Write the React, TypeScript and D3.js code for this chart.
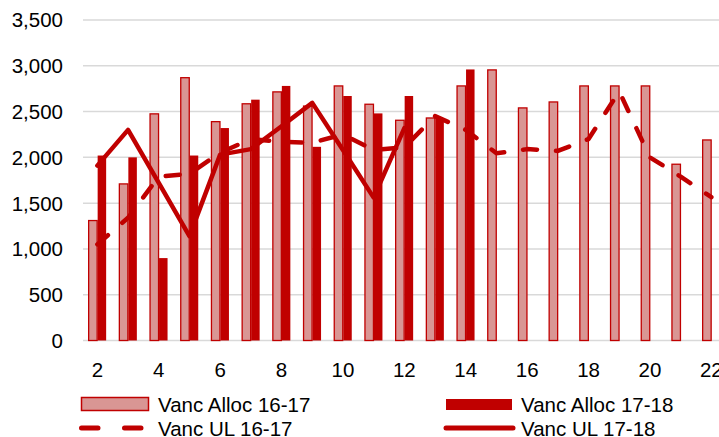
import React, { useEffect, useRef } from 'react'
import * as d3 from 'd3'

// categories along the x axis (the picture is cut at the right edge)
const cats = [2, 3, 4, 5, 6, 7, 8, 9, 10, 11, 12, 13, 14, 15, 16, 17, 18, 19, 20, 21, 22]
const xTickLabels = [2, 4, 6, 8, 10, 12, 14, 16, 18, 20, 22]
const yTicks = [0, 500, 1000, 1500, 2000, 2500, 3000, 3500]

const alloc1617 = [1310, 1710, 2475, 2870, 2390, 2585, 2715, 2560, 2780, 2580, 2405, 2430, 2780, 2955, 2540, 2605, 2780, 2780, 2780, 1925, 2190]
const alloc1718 = [2020, 2000, 900, 2020, 2320, 2630, 2780, 2115, 2670, 2480, 2670, 2430, 2960, null, null, null, null, null, null, null, null]
const ul1617 = [1050, 1340, 1790, 1820, 2050, 2200, 2170, 2160, 2250, 2080, 2110, 2450, 2300, 2045, 2090, 2070, 2200, 2720, 2000, 1790, 1565]
const ul1718 = [1910, 2300, 1720, 1140, 2030, 2090, 2340, 2595, 2080, 1560, 2320, null, null, null, null, null, null, null, null, null, null]

const RED = '#c00000'
const PINK = '#d99694'
const FONT = '"Liberation Sans", Arial, sans-serif'

export default function App() {
  const ref = useRef<SVGSVGElement>(null)

  useEffect(() => {
    const width = 719, height = 437
    const svg = d3.select(ref.current)
    svg.selectAll('*').remove()
    svg.attr('width', width).attr('height', height)

    const step = 30.7
    const x = d3.scaleBand<number>()
      .domain(cats)
      .range([82, 82 + cats.length * step])
      .padding(0)
    const cx = (c: number) => (x(c) as number) + x.bandwidth() / 2

    const y = d3.scaleLinear().domain([0, 3500]).range([340.5, 20])

    // gridlines
    svg.append('g').selectAll('line')
      .data(yTicks)
      .enter().append('line')
      .attr('x1', 83).attr('x2', width)
      .attr('y1', d => y(d)).attr('y2', d => y(d))
      .style('stroke', '#d9d9d9')
      .style('stroke-width', 1.5)

    // y labels
    svg.append('g').selectAll('text')
      .data(yTicks)
      .enter().append('text')
      .attr('x', 63)
      .attr('y', d => y(d))
      .attr('dy', '0.36em')
      .style('text-anchor', 'end')
      .style('font', `20.5px ${FONT}`)
      .style('fill', '#000')
      .text(d => d3.format(',')(d))

    // x labels
    svg.append('g').selectAll('text')
      .data(xTickLabels)
      .enter().append('text')
      .attr('x', d => cx(d))
      .attr('y', 376.5)
      .style('text-anchor', 'middle')
      .style('font', `20.5px ${FONT}`)
      .style('fill', '#000')
      .text(d => d)

    const barW = 8.5

    // Vanc Alloc 16-17
    svg.append('g').selectAll('rect')
      .data(cats.map((c, i) => ({ c, v: alloc1617[i] })))
      .enter().append('rect')
      .attr('x', d => cx(d.c) - barW - 0.2)
      .attr('y', d => y(d.v))
      .attr('width', barW)
      .attr('height', d => y(0) - y(d.v))
      .style('fill', PINK)
      .style('stroke', RED)
      .style('stroke-width', 1.3)

    // Vanc Alloc 17-18
    svg.append('g').selectAll('rect')
      .data(cats.map((c, i) => ({ c, v: alloc1718[i] })).filter(d => d.v != null))
      .enter().append('rect')
      .attr('x', d => cx(d.c) + 0.3)
      .attr('y', d => y(d.v as number))
      .attr('width', barW)
      .attr('height', d => y(0) - y(d.v as number))
      .style('fill', RED)

    const line = d3.line<{ c: number, v: number | null }>()
      .defined(d => d.v != null)
      .x(d => cx(d.c))
      .y(d => y(d.v as number))

    // Vanc UL 16-17 (dashed)
    svg.append('path')
      .datum(cats.map((c, i) => ({ c, v: ul1617[i] })))
      .attr('d', line)
      .style('fill', 'none')
      .style('stroke', RED)
      .style('stroke-width', 4.5)
      .style('stroke-linecap', 'round')
      .style('stroke-linejoin', 'round')
      .style('stroke-dasharray', '14,19')

    // Vanc UL 17-18 (solid)
    svg.append('path')
      .datum(cats.map((c, i) => ({ c, v: ul1718[i] })))
      .attr('d', line)
      .style('fill', 'none')
      .style('stroke', RED)
      .style('stroke-width', 4.5)
      .style('stroke-linecap', 'round')
      .style('stroke-linejoin', 'round')

    // legend
    const lg = svg.append('g')
    lg.append('rect')
      .attr('x', 81.5).attr('y', 397.5).attr('width', 67).attr('height', 13)
      .style('fill', PINK).style('stroke', RED).style('stroke-width', 1.5)
    lg.append('rect')
      .attr('x', 446).attr('y', 399).attr('width', 66).attr('height', 11)
      .style('fill', RED)
    lg.append('line')
      .attr('x1', 81.5).attr('x2', 141.5).attr('y1', 428).attr('y2', 428)
      .style('stroke', RED).style('stroke-width', 5)
      .style('stroke-linecap', 'round')
      .style('stroke-dasharray', '16.5,26.5')
    lg.append('line')
      .attr('x1', 446).attr('x2', 513).attr('y1', 428).attr('y2', 428)
      .style('stroke', RED).style('stroke-width', 5)
      .style('stroke-linecap', 'round')

    const legendText = [
      { t: 'Vanc Alloc 16-17', x: 158, y: 411.5 },
      { t: 'Vanc Alloc 17-18', x: 521, y: 411.5 },
      { t: 'Vanc UL 16-17', x: 158, y: 435.5 },
      { t: 'Vanc UL 17-18', x: 521, y: 435.5 },
    ]
    lg.selectAll('text')
      .data(legendText)
      .enter().append('text')
      .attr('x', d => d.x)
      .attr('y', d => d.y)
      .style('font', `20.5px ${FONT}`)
      .style('fill', '#000')
      .text(d => d.t)
  }, [])

  return (
    <svg ref={ref} style={{ position: 'absolute', left: 0, top: 0, display: 'block', background: '#fff' }} />
  )
}
